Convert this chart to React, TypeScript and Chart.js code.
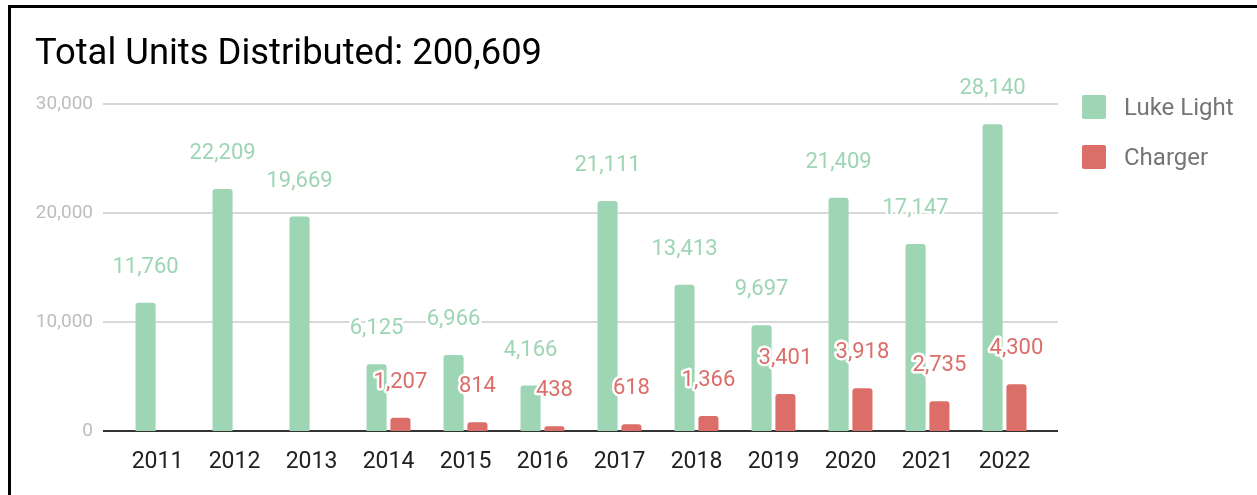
import React, { useEffect, useRef } from "react";
import { Chart, registerables } from "chart.js";

Chart.register(...registerables);

const title = "Total Units Distributed: 200,609";
const categories = ["2011", "2012", "2013", "2014", "2015", "2016", "2017", "2018", "2019", "2020", "2021", "2022"];
const lukeLight = [11760, 22209, 19669, 6125, 6966, 4166, 21111, 13413, 9697, 21409, 17147, 28140];
const charger = [null, null, null, 1207, 814, 438, 618, 1366, 3401, 3918, 2735, 4300];
const seriesNames = ["Luke Light", "Charger"];
const yTicks = [0, 10000, 20000, 30000];

const GREEN = "#9dd5b5";
const RED = "#dc6e69";
const FONT = "Roboto";

const fmt = (v: number) => v.toLocaleString("en-US");

const gridPlugin = {
  id: "extGrid",
  beforeDatasetsDraw(chart: any) {
    const { ctx, chartArea } = chart;
    const y = chart.scales.y;
    ctx.save();
    y.ticks.forEach((t: any) => {
      const py = Math.round(y.getPixelForValue(t.value));
      ctx.beginPath();
      if (t.value === 0) {
        ctx.strokeStyle = "#333333";
        ctx.lineWidth = 2;
      } else {
        ctx.strokeStyle = "#cccccc";
        ctx.lineWidth = 1.5;
      }
      ctx.moveTo(chartArea.left - 16, py);
      ctx.lineTo(chartArea.right + 15, py);
      ctx.stroke();
    });
    ctx.restore();
  },
};

const labelPlugin = {
  id: "barLabels",
  afterDatasetsDraw(chart: any) {
    const { ctx } = chart;
    ctx.save();
    ctx.font = `22px ${FONT}`;
    ctx.textAlign = "center";
    ctx.textBaseline = "alphabetic";
    ctx.lineJoin = "round";
    chart.data.datasets.forEach((ds: any, di: number) => {
      const meta = chart.getDatasetMeta(di);
      meta.data.forEach((el: any, i: number) => {
        const v = ds.data[i];
        if (v == null) return;
        const txt = fmt(v);
        const x = el.x;
        const y = el.y - 30;
        ctx.strokeStyle = "#ffffff";
        ctx.lineWidth = 5;
        ctx.strokeText(txt, x, y);
        ctx.fillStyle = ds.backgroundColor;
        ctx.fillText(txt, x, y);
      });
    });
    ctx.restore();
  },
};

const legendPlugin = {
  id: "customLegend",
  afterDraw(chart: any) {
    const { ctx } = chart;
    ctx.save();
    chart.data.datasets.forEach((ds: any, i: number) => {
      const bx = 1082;
      const by = 95 + i * 50;
      ctx.fillStyle = ds.backgroundColor;
      ctx.beginPath();
      (ctx as any).roundRect(bx, by, 24, 24, 2);
      ctx.fill();
      ctx.fillStyle = "#757575";
      ctx.font = `24px ${FONT}`;
      ctx.textAlign = "left";
      ctx.textBaseline = "middle";
      ctx.fillText(ds.label, 1124, by + 14);
    });
    ctx.restore();
  },
};

export default function App() {
  const ref = useRef<HTMLCanvasElement | null>(null);

  useEffect(() => {
    if (!ref.current) return;
    const chart = new Chart(ref.current, {
      type: "bar",
      data: {
        labels: categories,
        datasets: [
          {
            label: seriesNames[0],
            data: lukeLight,
            backgroundColor: GREEN,
            borderRadius: 3,
            categoryPercentage: 0.62,
            barPercentage: 0.84,
          },
          {
            label: seriesNames[1],
            data: charger as any,
            backgroundColor: RED,
            borderRadius: 3,
            categoryPercentage: 0.62,
            barPercentage: 0.84,
          },
        ],
      },
      options: {
        responsive: false,
        animation: false,
        layout: { padding: { left: 35, right: 214, top: 0, bottom: 14 } },
        plugins: {
          legend: { display: false },
          tooltip: { enabled: false },
          title: {
            display: true,
            text: title,
            align: "start",
            color: "#000000",
            font: { family: FONT, size: 36.4, weight: "normal" as any, lineHeight: 1.2 },
            padding: { top: 33, bottom: 27.3 },
          },
        },
        scales: {
          x: {
            grid: { display: false, drawTicks: false },
            border: { display: false },
            ticks: {
              color: "#222222",
              font: { family: FONT, size: 23 },
              padding: 17,
              maxRotation: 0,
              autoSkip: false,
            },
            afterFit(scale: any) {
              scale.height = 50;
            },
          },
          y: {
            min: 0,
            max: 30000,
            grid: { display: false, drawTicks: false },
            border: { display: false },
            afterBuildTicks(scale: any) {
              scale.ticks = yTicks.map((v) => ({ value: v }));
            },
            ticks: {
              color: "#bdbdbd",
              font: { family: FONT, size: 19 },
              padding: 26,
              callback: (v: any) => fmt(Number(v)),
            },
            afterFit(scale: any) {
              scale.width = 84;
            },
          },
        },
      },
      plugins: [gridPlugin, labelPlugin, legendPlugin],
    });
    return () => chart.destroy();
  }, []);

  return (
    <div style={{ position: "fixed", left: 0, top: 0, width: 1257, height: 495, overflow: "hidden", background: "#fff" }}>
      <div
        style={{
          position: "absolute",
          left: 8,
          top: 5,
          width: 1400,
          height: 700,
          border: "3px solid #000",
          boxSizing: "border-box",
        }}
      />
      <canvas
        ref={ref}
        width={1257}
        height={495}
        style={{ position: "absolute", left: 0, top: 0, width: 1257, height: 495 }}
      />
    </div>
  );
}
